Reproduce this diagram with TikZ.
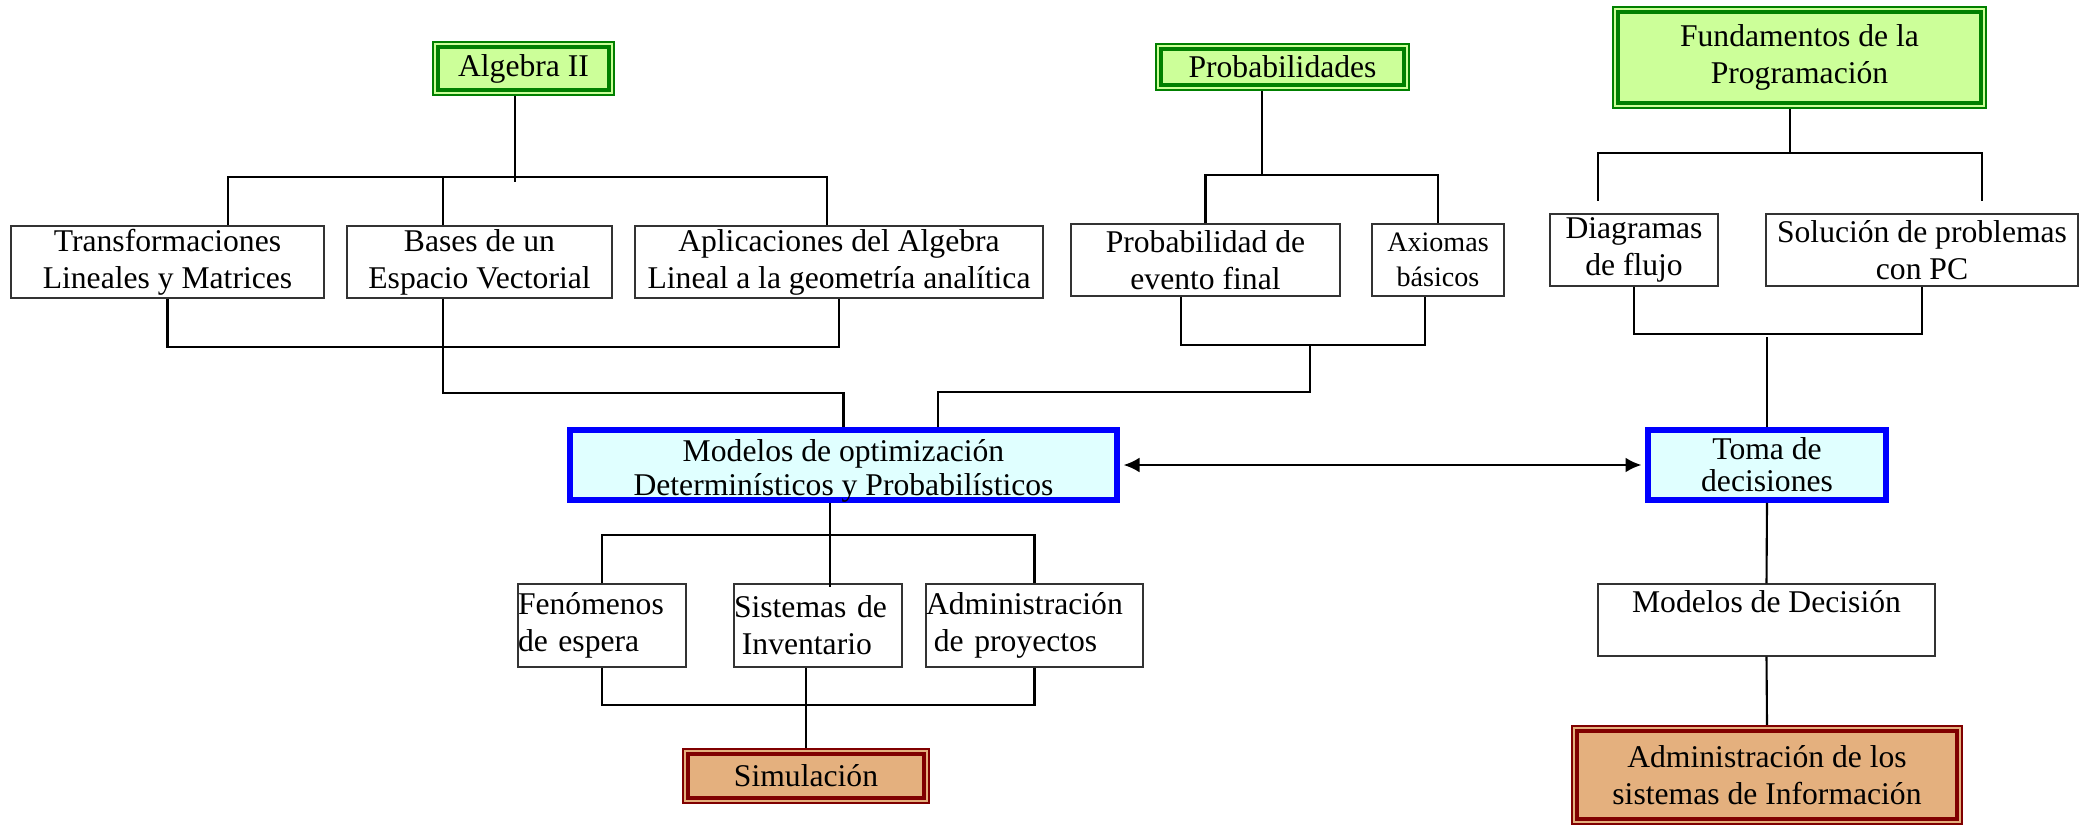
\documentclass[tikz,border=0pt]{standalone}
\usepackage{fontspec}
\setmainfont{Liberation Serif}
\usetikzlibrary{arrows.meta}
\definecolor{leafgreen}{HTML}{CCFF99}
\definecolor{forestgreen}{HTML}{008000}
\definecolor{paleblue}{HTML}{E0FFFF}
\definecolor{sand}{HTML}{E4B07E}
\definecolor{wine}{HTML}{800000}
\tikzset{topic/.style={draw=black!80, line width=0.4pt, fill=white, inner sep=0pt,
  align=center, font=\fontsize{9}{10.5}\selectfont},
  course/.style={topic, draw=forestgreen, fill=leafgreen, line width=0.6pt},
  goal/.style={topic, draw=wine, fill=sand, line width=0.6pt},
  core/.style={topic, draw=blue, fill=paleblue, line width=1.7pt},
  leftbox/.style={topic, text width=#1, align=left},
  link/.style={line width=0.6pt}}

\begin{document}
\begin{tikzpicture}
      \useasboundingbox (0,0) rectangle (20.87,-8.26);

      % materias de base
      \node [course, minimum width=1.81cm, minimum height=0.53cm] (alg) at (5.235,-0.685) {Algebra II};
      \node [course, minimum width=2.53cm, minimum height=0.46cm] (prob) at (12.825,-0.67) {Probabilidades};
      \node [course, minimum width=3.73cm, minimum height=1.01cm] (fund) at (17.995,-0.575) {Fundamentos de la\\Programación};

      \node [topic, minimum width=3.13cm, minimum height=0.72cm] (trans) at (1.675,-2.62) {Transformaciones\\Lineales y Matrices};
      \node [topic, minimum width=2.65cm, minimum height=0.72cm] (bases) at (4.795,-2.62) {Bases de un\\Espacio Vectorial};
      \node [topic, minimum width=4.08cm, minimum height=0.72cm] (aplic) at (8.39,-2.62) {Aplicaciones del Algebra\\Lineal a la geometría analítica};
      \node [topic, minimum width=2.69cm, minimum height=0.72cm] (evento) at (12.055,-2.60) {Probabilidad de\\evento final};
      \node [topic, minimum width=1.32cm, minimum height=0.72cm, font=\fontsize{8}{10}\selectfont] (axiom) at (14.38,-2.60) {Axiomas\\básicos};
      \node [topic, minimum width=1.68cm, minimum height=0.72cm] (diag) at (16.34,-2.50) {Diagramas\\de flujo};
      \node [topic, minimum width=3.12cm, minimum height=0.72cm] (soluc) at (19.22,-2.50) {Solución de problemas\\con PC};

      % nivel central
      \node [core, minimum width=5.47cm, minimum height=0.70cm, font=\fontsize{9}{9.7}\selectfont,
        text height=17.6pt, text depth=0pt] (optim) at (8.435,-4.65) {Modelos de optimización\\Determinísticos y Probabilísticos};
      \node [core, minimum width=2.38cm, minimum height=0.70cm, font=\fontsize{9}{9.2}\selectfont] (toma) at (17.67,-4.65) {Toma de\\decisiones};

      \node [leftbox=1.68cm, minimum height=0.83cm] (fenom) at (6.02,-6.255) {Fenómenos\\de espera};
      \node [leftbox=1.68cm, minimum height=0.83cm] (invent) at (8.18,-6.255) {Sistemas de\\\hspace*{.25em}Inventario};
      \node [leftbox=2.17cm, minimum height=0.83cm] (proyec) at (10.345,-6.255) {Administración\\\hspace*{.25em}de proyectos};
      \node [topic, minimum width=3.37cm, minimum height=0.72cm] (decis) at (17.665,-6.20) {Modelos de Decisión\\\mbox{}};

      \node [goal, minimum width=2.46cm, minimum height=0.54cm] (simul) at (8.06,-7.76) {Simulación};
      \node [goal, minimum width=3.90cm, minimum height=0.98cm] (adminsi) at (17.67,-7.75) {Administración de los\\sistemas de Información};

      % doble borde
      \foreach \n in {alg,prob,fund}
        \draw [forestgreen, line width=1.1pt] ([shift={(.06,-.06)}]\n.north west) rectangle ([shift={(-.06,.06)}]\n.south east);
      \foreach \n in {simul,adminsi}
        \draw [wine, line width=1.1pt] ([shift={(.06,-.06)}]\n.north west) rectangle ([shift={(-.06,.06)}]\n.south east);

      % Algebra II
      \draw [link] ([xshift=-.085cm]alg.south) -- ++(0,-.86);
      \draw [link] ([xshift=.605cm]trans.north) -- ++(0,.48) -| ([xshift=-.12cm]aplic.north);
      \draw [link] ([xshift=-.365cm]bases.north) -- ++(0,.48);
      \draw [link] (trans.south) -- ++(0,-.48) -| (aplic.south);
      \draw [link] ([xshift=-.365cm]bases.south) -- ++(0,-.94) -| (optim.north);

      % Probabilidades
      \draw [link] ([xshift=-.205cm]prob.south) -- ++(0,-.85);
      \draw [link] (evento.north) -- ++(0,.48) -| (axiom.north);
      \draw [link] ([xshift=-.245cm]evento.south) -- ++(0,-.48) -| ([xshift=-.13cm]axiom.south);
      \coordinate (probbus) at (13.10,-3.44);
      \draw [link] (probbus) -- ++(0,-.48) -| ([xshift=.945cm]optim.north);

      % Fundamentos de la Programacion
      \draw [link] ([xshift=-.095cm]fund.south) -- ++(0,-.44);
      \coordinate (fundL) at (15.98,-2.01);
      \coordinate (fundR) at (19.82,-2.01);
      \draw [link] (fundL) -- ++(0,.48) -| (fundR);
      \draw [link] (diag.south) -- ++(0,-.47) -| (soluc.south);
      \draw [link] (toma.north) -- ++(0,.90);

      \draw [link, line width=.75pt, {Latex[length=.16cm,width=.15cm]}-{Latex[length=.16cm,width=.15cm]}, shorten <=1pt, shorten >=1pt] (optim.east) -- (toma.west);
      \draw [link] (toma.south) -- (decis.north);
      \draw [link] (decis.south) -- (adminsi.north);

      % modelos
      \draw [link] ([xshift=-.135cm]optim.south) -- ++(0,-.84);
      \draw [link] (fenom.north) -- ++(0,.48) -| (proyec.north);
      \draw [link] (fenom.south) -- ++(0,-.37) -| (proyec.south);
      \draw [link] (invent.south -| simul.north) -- (simul.north);
    \end{tikzpicture}
\end{document}
